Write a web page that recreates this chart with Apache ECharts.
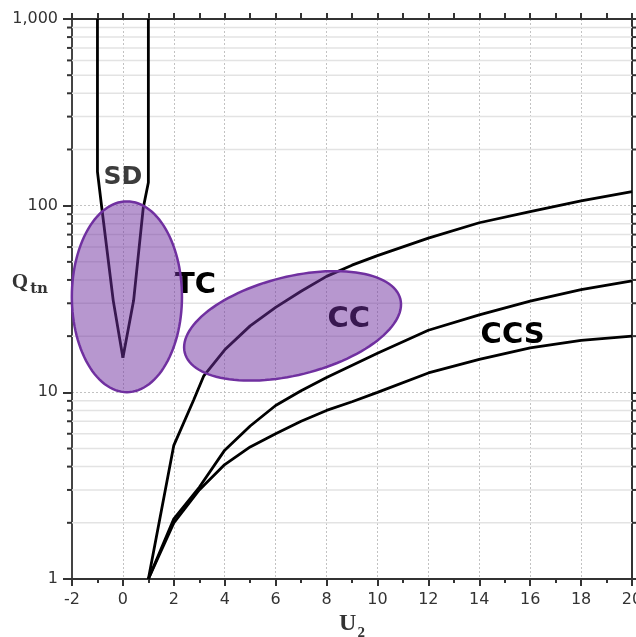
<!DOCTYPE html>
<html>
<head>
<meta charset="utf-8">
<script src="https://cdn.jsdelivr.net/npm/echarts@6/dist/echarts.min.js"></script>
<style>
html,body{margin:0;padding:0;background:#fff;}
#chart{width:636px;height:637px;}
</style>
</head>
<body>
<div id="chart"></div>
<script>
// ---- data ----
const xTickValues = [-2, 0, 2, 4, 6, 8, 10, 12, 14, 16, 18, 20];
const xTickLabels = ['-2', '0', '2', '4', '6', '8', '10', '12', '14', '16', '18', '20'];
const yTickValues = [1, 10, 100, 1000];
const yTickLabels = ['1', '10', '100', '1,000'];
const yMinorValues = [2, 3, 4, 5, 6, 7, 8, 9, 20, 30, 40, 50, 60, 70, 80, 90, 200, 300, 400, 500, 600, 700, 800, 900];

const sdLeftU2 = [-1, -1, -0.83, -0.38, 0];
const sdLeftQtn = [1000, 152, 97.5, 31, 15.3];
const sdRightU2 = [1, 1, 0.8, 0.42, 0];
const sdRightQtn = [1000, 133, 97.5, 31, 15.3];

const tcU2 = [1, 2, 2.78, 3.17, 4, 5, 6, 7, 8, 9, 10, 12, 14, 16, 18, 20];
const tcQtn = [1, 5.2, 9.1, 12.2, 16.9, 22.7, 28.5, 34.8, 41.8, 48, 54, 67, 81, 93, 106, 119];

const ccU2 = [1, 2, 3, 4, 5, 6, 7, 8, 10, 12, 14, 16, 18, 20];
const ccQtn = [1, 2.1, 3.1, 4.9, 6.6, 8.5, 10.2, 12.0, 16.2, 21.5, 26.0, 30.8, 35.5, 39.5];

const ccsU2 = [1, 2, 3, 4, 5, 6, 7, 8, 9, 10, 12, 14, 16, 18, 20];
const ccsQtn = [1, 2.0, 3.0, 4.1, 5.1, 6.0, 7.0, 8.0, 8.9, 10.0, 12.7, 15.0, 17.3, 19.0, 20.0];

const regionNames = ['SD', 'TC', 'CC', 'CCS'];
const regionU2 = [0, 2.85, 8.87, 15.31];
const regionQtn = [142, 37.4, 24.5, 20.1];

// ellipses: centre, end of first semi-axis, end of second semi-axis (U2, Qtn)
const ellipseCentreU2 = [0.157, 6.665];
const ellipseCentreQtn = [32.5, 22.7];
const ellipseAxisAU2 = [2.32, 10.9];
const ellipseAxisAQtn = [32.5, 31.6];
const ellipseAxisBU2 = [0.157, 7.13];
const ellipseAxisBQtn = [105.4, 12.6];

// ---- helpers ----
const zip = (xs, ys) => xs.map((x, i) => [x, ys[i]]);
const labelStyles = {
  SD: {size: 25, color: '#3c3c3c'},
  TC: {size: 29, color: '#000'},
  CC: {size: 29, color: '#000'},
  CCS: {size: 29, color: '#000'}
};
const axisColor = '#333';
const tickFont = {fontFamily: 'DejaVu Sans', fontSize: 16, color: '#333'};

const lineSeries = (name, xs, ys) => ({
  name: name, type: 'line', data: zip(xs, ys), showSymbol: false, symbol: 'none',
  smooth: false, z: 3, silent: true,
  lineStyle: {color: '#000', width: 2.8}
});

const chart = echarts.init(document.getElementById('chart'), null, {renderer: 'canvas'});

const xNameRich = {
  m: {fontFamily: 'Liberation Serif', fontWeight: 'bold', fontSize: 24, color: '#333', lineHeight: 26, verticalAlign: 'top'},
  s: {fontFamily: 'Liberation Serif', fontWeight: 'bold', fontSize: 15, color: '#333', lineHeight: 15, padding: [17, 0, 0, 1]}
};
const yNameRich = {
  m: {fontFamily: 'Liberation Serif', fontWeight: 'bold', fontSize: 21, color: '#333', lineHeight: 22, verticalAlign: 'top'},
  s: {fontFamily: 'DejaVu Serif', fontWeight: 'bold', fontSize: 15, color: '#333', lineHeight: 15, padding: [13, 0, 0, 2]}
};

const option = {
  animation: false,
  backgroundColor: '#fff',
  grid: {left: 72, right: 4, top: 19, bottom: 58, containLabel: false, outerBoundsMode: 'none'},
  xAxis: [{
    type: 'value', min: -2, max: 20, interval: 2, position: 'bottom',
    axisLine: {onZero: false, lineStyle: {color: axisColor, width: 2}},
    axisTick: {length: 7, lineStyle: {color: axisColor, width: 2}},
    minorTick: {show: true, splitNumber: 2, length: 4, lineStyle: {color: axisColor, width: 2}},
    axisLabel: Object.assign({margin: 13, formatter: v => xTickLabels[xTickValues.indexOf(v)] ?? ''}, tickFont),
    splitLine: {show: true, lineStyle: {color: '#c2c2c2', type: [2, 2], width: 1}},
    name: '{m|U}{s|2}', nameLocation: 'middle', nameGap: 33, nameMoveOverlap: false,
    nameTextStyle: {rich: xNameRich}
  }, {
    type: 'value', min: -2, max: 20, interval: 2, position: 'top',
    axisLine: {onZero: false, lineStyle: {color: axisColor, width: 2}},
    axisTick: {length: 6, lineStyle: {color: axisColor, width: 2}},
    minorTick: {show: true, splitNumber: 2, length: 6, lineStyle: {color: axisColor, width: 2}},
    axisLabel: {show: false},
    splitLine: {show: false}
  }],
  yAxis: [{
    type: 'log', logBase: 10, min: 1, max: 1000, position: 'left',
    axisLine: {onZero: false, lineStyle: {color: '#444', width: 2}},
    axisTick: {length: 9, lineStyle: {color: axisColor, width: 2}},
    axisLabel: Object.assign({margin: 14, formatter: v => {
      const i = yTickValues.findIndex(t => Math.abs(t - v) < 1e-6 * t);
      return i >= 0 ? yTickLabels[i] : '';
    }}, tickFont),
    splitLine: {show: true, lineStyle: {color: '#c2c2c2', type: [2, 2], width: 1}},
    name: '{m|Q}{s|tn}', nameLocation: 'middle', nameRotate: 0, nameGap: 24, nameMoveOverlap: false,
    nameTextStyle: {rich: yNameRich, padding: [0, 0, 32, 0]}
  }, {
    type: 'log', logBase: 10, min: 1, max: 1000, position: 'right',
    axisLine: {onZero: false, lineStyle: {color: axisColor, width: 2}},
    axisTick: {length: 6, lineStyle: {color: axisColor, width: 2}},
    axisLabel: {show: false},
    splitLine: {show: false}
  }],
  series: [
    {
      name: 'minor', type: 'custom', silent: true, z: 1,
      data: yMinorValues.map(v => [-2, v]),
      renderItem: (params, api) => {
        const cs = params.coordSys;
        const y = api.coord([-2, api.value(1)])[1];
        return {type: 'group', children: [
          {type: 'line', shape: {x1: cs.x, y1: y, x2: cs.x + cs.width, y2: y}, style: {stroke: '#e3e3e3', lineWidth: 1.5}},
          {type: 'line', shape: {x1: cs.x - 5, y1: y, x2: cs.x, y2: y}, style: {stroke: axisColor, lineWidth: 2}},
          {type: 'line', shape: {x1: cs.x + cs.width, y1: y, x2: cs.x + cs.width + 5, y2: y}, style: {stroke: axisColor, lineWidth: 2}}
        ]};
      }
    },
    lineSeries('SD left', sdLeftU2, sdLeftQtn),
    lineSeries('SD right', sdRightU2, sdRightQtn),
    lineSeries('TC', tcU2, tcQtn),
    lineSeries('CC', ccU2, ccQtn),
    lineSeries('CCS', ccsU2, ccsQtn),
    {
      name: 'labels', type: 'custom', silent: true, z: 4,
      data: regionNames.map((n, i) => [regionU2[i], regionQtn[i], i]),
      renderItem: (params, api) => {
        const p = api.coord([api.value(0), api.value(1)]);
        const n = regionNames[api.value(2)];
        const st = labelStyles[n];
        return {type: 'text', x: p[0], y: p[1], style: {
          text: n, fontFamily: 'DejaVu Sans', fontWeight: 'bold', fontSize: st.size,
          fill: st.color, align: 'center', verticalAlign: 'middle'
        }};
      }
    },
    {
      name: 'regions', type: 'custom', silent: true, z: 5,
      data: ellipseCentreU2.map((u, i) => [u, ellipseCentreQtn[i], ellipseAxisAU2[i], ellipseAxisAQtn[i], ellipseAxisBU2[i], ellipseAxisBQtn[i]]),
      encode: {x: [0, 2, 4], y: [1, 3, 5]},
      renderItem: (params, api) => {
        const c = api.coord([api.value(0), api.value(1)]);
        const a = api.coord([api.value(2), api.value(3)]);
        const b = api.coord([api.value(4), api.value(5)]);
        const pts = [];
        for (let k = 0; k < 120; k++) {
          const t = k / 120 * Math.PI * 2;
          pts.push([
            c[0] + Math.cos(t) * (a[0] - c[0]) + Math.sin(t) * (b[0] - c[0]),
            c[1] + Math.cos(t) * (a[1] - c[1]) + Math.sin(t) * (b[1] - c[1])
          ]);
        }
        return {type: 'polygon', shape: {points: pts}, style: {
          fill: 'rgba(112,48,160,0.5)', stroke: '#7030a0', lineWidth: 2.5
        }};
      }
    }
  ]
};
chart.setOption(option);
</script>
</body>
</html>
